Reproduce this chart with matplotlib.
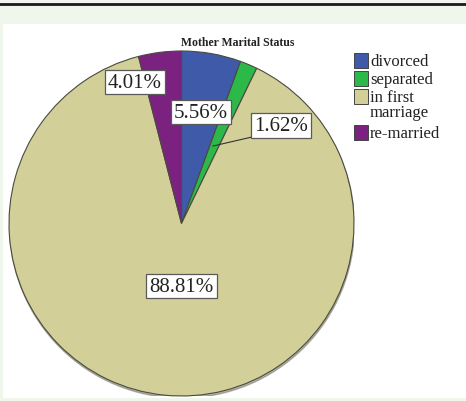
import matplotlib
matplotlib.use("Agg")
import matplotlib.pyplot as plt
from matplotlib.patches import Rectangle
import numpy as np

categories = ["divorced", "separated", "in first\nmarriage", "re-married"]
percentages = [5.56, 1.62, 88.81, 4.01]
colors = ["#3f5aa8", "#2db84a", "#d3cf98", "#7b2281"]

W, H = 466, 402
fig = plt.figure(figsize=(W / 100, H / 100), dpi=100)
fig.patch.set_facecolor("#eff6ec")

# page frame: top rule and white chart panel
bg = fig.add_axes([0, 0, 1, 1])
bg.set_xlim(0, W)
bg.set_ylim(H, 0)
bg.axis("off")
bg.add_patch(Rectangle((0, 0), W, 4.5, facecolor="#f3f6ef", edgecolor="none"))
bg.plot([0, W], [5, 5], color="#1a1a1a", lw=2.0)
bg.add_patch(Rectangle((3, 25), W - 3, 374, facecolor="white", edgecolor="none"))

serif = ["Liberation Serif", "DejaVu Serif"]

bg.text(238, 43, "Mother Marital Status", ha="center", va="center",
        fontsize=8.5, fontweight="bold", family=serif, color="#222222")

# pie axes: center (181.5, 224.5), radius 172.5 px
cx, cy, r = 181.5, 224.5, 172.5
ax = fig.add_axes([(cx - r) / W, (H - cy - r) / H, 2 * r / W, 2 * r / H])
ax.set_xlim(-1, 1)
ax.set_ylim(-1, 1)
ax.set_aspect("auto")
ax.axis("off")

# soft shadow under the pie
shadow = plt.Circle((0.003, -0.012), 1.0, color="#6e6e5a", alpha=0.5, zorder=0)
ax.add_patch(shadow)

wedges, _ = ax.pie(percentages, colors=colors, startangle=90, counterclock=False,
                   radius=1.0, center=(0, 0),
                   wedgeprops=dict(edgecolor="#4a4a40", linewidth=0.8))
for w in wedges:
    w.set_zorder(1)
ax.set_xlim(-1, 1)
ax.set_ylim(-1, 1)

def px(x, y):
    return ((x - cx) / r, (cy - y) / r)

label_pos = [(201, 113), (281, 126.5), (181.5, 287), (135, 83)]
box = dict(boxstyle="square,pad=0.14", facecolor="white", edgecolor="#5a5a5a", linewidth=0.9)
for val, (lx, ly) in zip(percentages, label_pos):
    tx, ty = px(lx, ly)
    ax.text(tx, ty, f"{val:.2f}%", ha="center", va="center", fontsize=15,
            family=serif, color="#222222", bbox=box, zorder=5)

# leader line for the separated slice
x0, y0 = px(252, 138)
x1, y1 = px(213, 147)
ax.plot([x0, x1], [y0, y1], color="#333333", lw=0.8, zorder=4)

# legend
ly0 = 62
steps = [0, 18, 36, 72]
for i, (lab, col) in enumerate(zip(categories, colors)):
    yy = ly0 + steps[i]
    bg.add_patch(Rectangle((354, yy - 8), 14, 15, facecolor=col, edgecolor="#444444", lw=0.7))
    if "\n" in lab:
        a, b = lab.split("\n")
        bg.text(370, yy, a, ha="left", va="center", fontsize=12, family=serif, color="#222222")
        bg.text(370, yy + 15, b, ha="left", va="center", fontsize=12, family=serif, color="#222222")
    else:
        bg.text(370, yy, lab, ha="left", va="center", fontsize=12, family=serif, color="#222222")

fig.savefig("out.png", dpi=100, facecolor=fig.get_facecolor())
